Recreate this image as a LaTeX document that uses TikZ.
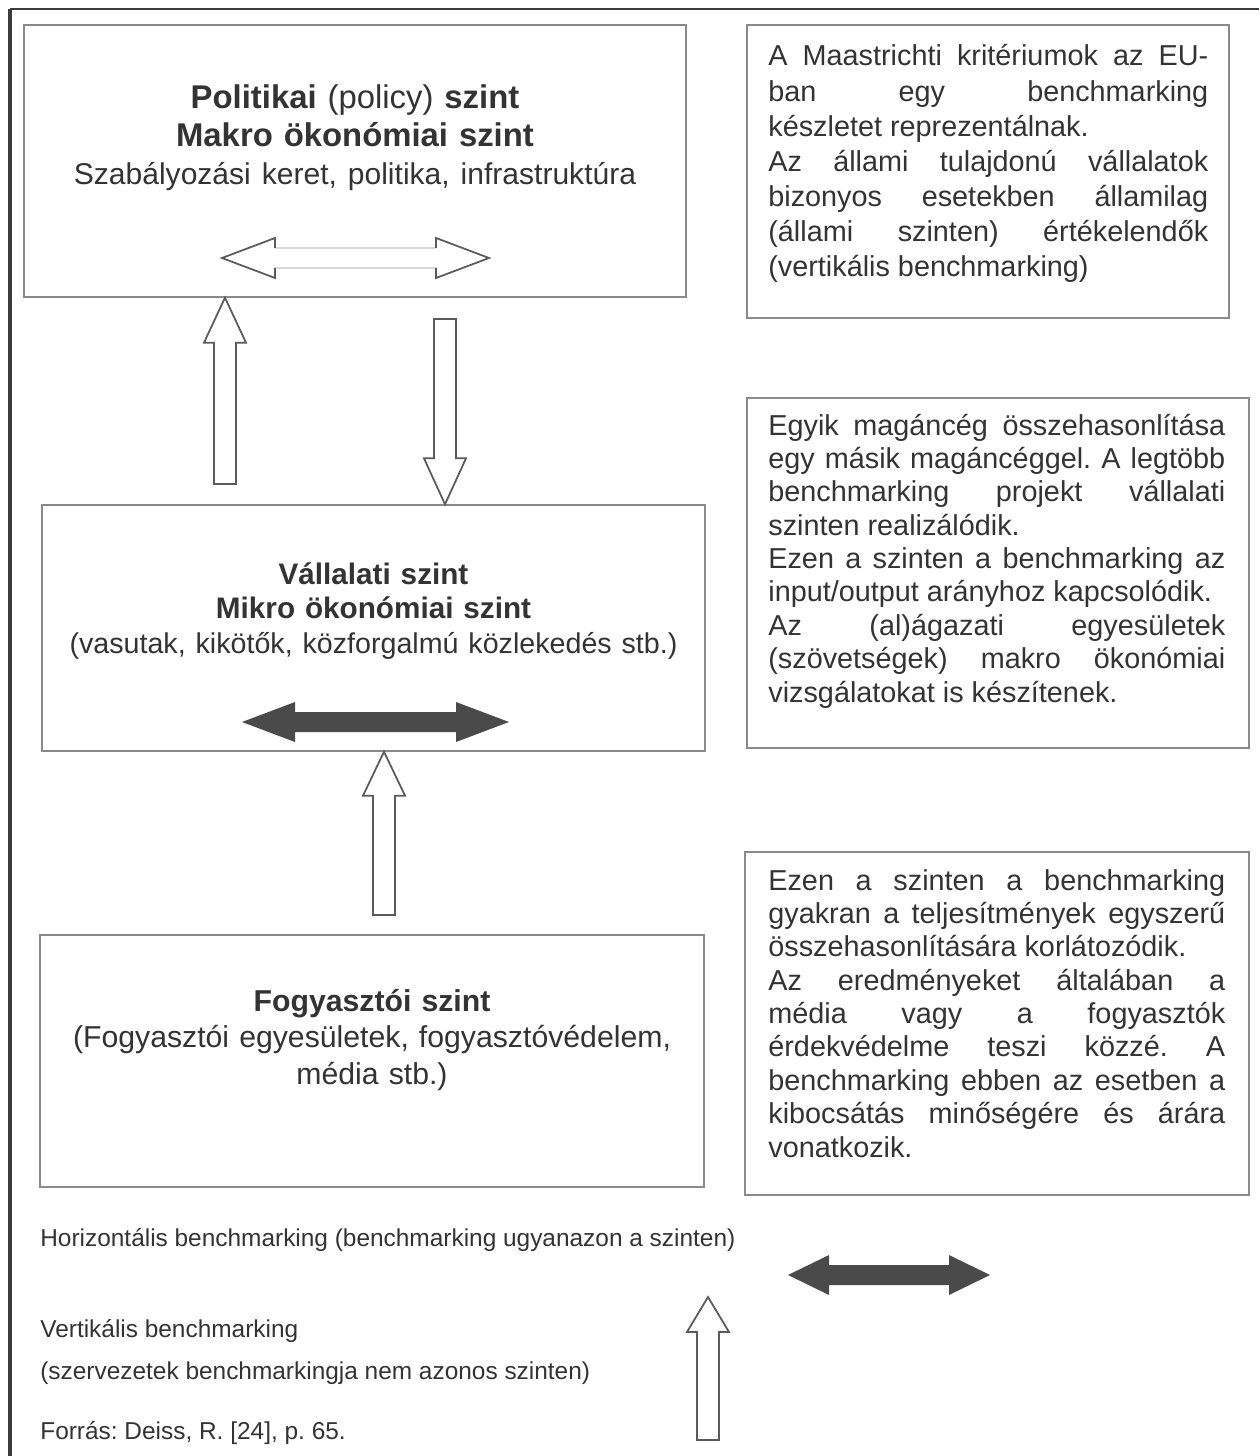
\documentclass[tikz,border=0pt]{standalone}
\usepackage{fontspec}
\setmainfont{Liberation Sans}
\usetikzlibrary{calc}
\setlength{\parindent}{0pt}
\tolerance=10000
\hbadness=10000
\hyphenpenalty=10000
\frenchspacing

\definecolor{inkgray}{HTML}{333333}
\definecolor{linegray}{HTML}{8A8A8A}
\definecolor{arrgray}{HTML}{5A5A5A}
\definecolor{faintgray}{HTML}{D8D8D8}
\definecolor{darkfill}{HTML}{4A4A4A}
\definecolor{framegray}{HTML}{3C3C3C}

% hollow vertical block arrow: tail, tip, signed head length
\newcommand{\vblock}[3]{%
  \draw[hollowarr] ($(#1)+(-11,0)$) -- ($(#2)+(-11,#3)$) -- ($(#2)+(-21,#3)$) -- (#2)
    -- ($(#2)+(21,#3)$) -- ($(#2)+(11,#3)$) -- ($(#1)+(11,0)$) -- cycle;}
% horizontal double block arrow: left tip, right tip, head length, style
\newcommand{\hblock}[4]{%
  \draw[#4] (#1) -- ($(#1)+(#3,-20)$) -- ($(#1)+(#3,-10)$) -- ($(#2)+(-#3,-10)$)
    -- ($(#2)+(-#3,-20)$) -- (#2) -- ($(#2)+(-#3,20)$) -- ($(#2)+(-#3,10)$)
    -- ($(#1)+(#3,10)$) -- ($(#1)+(#3,20)$) -- cycle;}

\begin{document}
\begin{tikzpicture}[
    x=0.02cm, y=-0.02cm,
    box/.style={draw=linegray, line width=0.8pt, inner sep=0pt},
    mid/.style={text=inkgray, inner sep=0pt, anchor=base, align=center, text width=12.9cm},
    txt/.style={text=inkgray, inner sep=0pt, anchor=base west, align=justify},
    legend/.style={text=inkgray, inner sep=0pt, anchor=base west, font=\fontsize{13.9pt}{16pt}\selectfont},
    hollowarr/.style={draw=arrgray, line width=1pt, fill=white, line join=miter},
    faintarr/.style={draw=faintgray, line width=0.8pt},
    darkarr/.style={fill=darkfill, draw=none},
  ]
  \useasboundingbox (0,0) rectangle (1259,1456);

  % ---- FRAME ----
  \draw[framegray, line width=2pt] (10,1456) -- (10,9);
  \draw[framegray, line width=1.2pt] (10,9) -- (1259,9);

  % ---- LEVEL BOXES ----
  \node[box, minimum width=13.24cm, minimum height=5.44cm] (politikai) at (355,161) {};
  \node[box, minimum width=13.26cm, minimum height=4.92cm] (vallalati) at (373.5,628) {};
  \node[box, minimum width=13.28cm, minimum height=5.04cm] (fogyasztoi) at (372,1061) {};

  \node[mid, font=\fontsize{18.7pt}{21.5pt}\selectfont] (politikai-txt) at (355,109)
    {\textbf{Politikai} (policy) \textbf{szint}\\ \textbf{Makro ökonómiai szint}\\
     {\fontsize{17.1pt}{21.5pt}\selectfont Szabályozási keret, politika, infrastruktúra}};
  \node[mid, font=\fontsize{16.9pt}{19.8pt}\selectfont] (vallalati-txt) at (373.5,584)
    {\textbf{Vállalati szint}\\ \textbf{Mikro ökonómiai szint}\\
     {\fontsize{16.3pt}{19.8pt}\selectfont (vasutak, kikötők, közforgalmú közlekedés stb.)}};
  \node[mid, font=\fontsize{17.2pt}{21pt}\selectfont] (fogyasztoi-txt) at (372,1011)
    {\textbf{Fogyasztói szint}\\ (Fogyasztói egyesületek, fogyasztóvédelem,\\ média stb.)};

  % ---- NOTE BOXES ----
  \node[box, minimum width=9.64cm, minimum height=5.86cm] (maastricht) at (988,171.5) {};
  \node[box, minimum width=10.04cm, minimum height=7cm] (maganceg) at (998,573) {};
  \node[box, minimum width=10.08cm, minimum height=6.86cm] (media) at (997,1023.5) {};

  \node[txt, text width=8.8cm, font=\fontsize{16.4pt}{19.95pt}\selectfont] (maastricht-txt) at (768,66)
    {A Maastrichti kritériumok az EU-\linebreak ban egy benchmarking\linebreak
     készletet reprezentálnak.\par
     Az állami tulajdonú vállalatok\linebreak bizonyos esetekben államilag\linebreak
     (állami szinten) értékelendők\linebreak (vertikális benchmarking)};
  \node[txt, text width=9.14cm, font=\fontsize{16.4pt}{19pt}\selectfont] (maganceg-txt) at (768,435)
    {Egyik magáncég összehasonlítása\linebreak egy másik magáncéggel. A legtöbb\linebreak
     benchmarking projekt vállalati\linebreak szinten realizálódik.\par
     Ezen a szinten a benchmarking az\linebreak input/output arányhoz kapcsolódik.\par
     Az (al)ágazati egyesületek\linebreak (szövetségek) makro ökonómiai\linebreak
     vizsgálatokat is készítenek.};
  \node[txt, text width=9.14cm, font=\fontsize{16.4pt}{19pt}\selectfont] (media-txt) at (768,890)
    {Ezen a szinten a benchmarking\linebreak gyakran a teljesítmények egyszerű\linebreak
     összehasonlítására korlátozódik.\par
     Az eredményeket általában a\linebreak média vagy a fogyasztók\linebreak
     érdekvédelme teszi közzé. A\linebreak benchmarking ebben az esetben a\linebreak
     kibocsátás minőségére és árára\linebreak vonatkozik.};

  % ---- VERTICAL ARROWS ----
  \coordinate (up1-tail) at (225,484);
  \coordinate (up1-tip) at (politikai.south -| up1-tail);
  \vblock{up1-tail}{up1-tip}{45}
  \coordinate (down-tail) at (445,319);
  \coordinate (down-tip) at (vallalati.north -| down-tail);
  \vblock{down-tail}{down-tip}{-46}
  \coordinate (up2-tail) at (384,915);
  \coordinate (up2-tip) at (vallalati.south -| up2-tail);
  \vblock{up2-tail}{up2-tip}{44}

  % ---- HORIZONTAL ARROWS ----
  \coordinate (pol-l) at (222,258);
  \coordinate (pol-r) at (489,258);
  \draw[faintarr] ($(pol-l)+(53,-10)$) -- ($(pol-r)+(-53,-10)$);
  \draw[faintarr] ($(pol-l)+(53,10)$) -- ($(pol-r)+(-53,10)$);
  \draw[hollowarr, fill=none] ($(pol-l)+(53,-10)$) -- ($(pol-l)+(53,-20)$) -- (pol-l)
    -- ($(pol-l)+(53,20)$) -- ($(pol-l)+(53,10)$);
  \draw[hollowarr, fill=none] ($(pol-r)+(-53,-10)$) -- ($(pol-r)+(-53,-20)$) -- (pol-r)
    -- ($(pol-r)+(-53,20)$) -- ($(pol-r)+(-53,10)$);
  \coordinate (val-l) at (242,722);
  \coordinate (val-r) at (509,722);
  \hblock{val-l}{val-r}{53}{darkarr}

  % ---- LEGEND ----
  \node[legend] (horiz) at (40,1246) {Horizontális benchmarking (benchmarking ugyanazon a szinten)};
  \node[legend] (vert) at (40,1337) {Vertikális benchmarking};
  \node[legend] (vert-note) at (40,1379) {(szervezetek benchmarkingja nem azonos szinten)};
  \node[legend] (source) at (40,1439) {Forrás: Deiss, R. [24], p. 65.};
  \coordinate (lg-l) at (788,1275);
  \coordinate (lg-r) at (990,1275);
  \hblock{lg-l}{lg-r}{41}{darkarr}
  \coordinate (lg-tail) at (708,1440);
  \coordinate (lg-tip) at (708,1297);
  \vblock{lg-tail}{lg-tip}{35}
\end{tikzpicture}
\end{document}
